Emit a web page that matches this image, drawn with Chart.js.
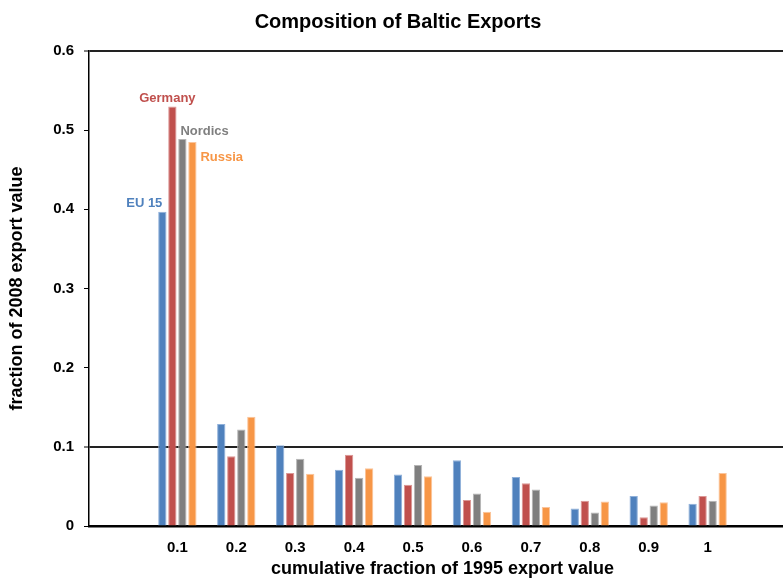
<!DOCTYPE html>
<html>
<head>
<meta charset="utf-8">
<title>Composition of Baltic Exports</title>
<script src="https://cdn.jsdelivr.net/npm/chart.js@4.4.1/dist/chart.umd.min.js"></script>
<style>
  html, body { margin: 0; padding: 0; background: #fff; overflow: hidden; }
  #wrap { width: 800px; height: 578px; position: relative; }
</style>
</head>
<body>
<div id="wrap"><canvas id="chart"></canvas></div>
<script>
// Cumulative fraction of 1995 export value (blank slots pad both ends of the axis)
const categories = ['', '0.1', '0.2', '0.3', '0.4', '0.5', '0.6', '0.7', '0.8', '0.9', '1', ''];

// Fraction of 2008 export value, by destination
const eu15     = [null, 0.397, 0.129, 0.102, 0.071, 0.065, 0.083, 0.062, 0.022, 0.038, 0.028, null];
const germany  = [null, 0.530, 0.088, 0.067, 0.090, 0.052, 0.033, 0.054, 0.032, 0.011, 0.038, null];
const nordics  = [null, 0.489, 0.122, 0.085, 0.061, 0.077, 0.041, 0.046, 0.017, 0.026, 0.032, null];
const russia   = [null, 0.485, 0.138, 0.066, 0.073, 0.063, 0.018, 0.024, 0.031, 0.030, 0.067, null];

const yTicks = [0, 0.1, 0.2, 0.3, 0.4, 0.5, 0.6];

const FONT = 'Arial, "Liberation Sans", sans-serif';

const series = [
  { label: 'EU 15',   data: eu15,    color: '#4F81BD', edge: '#8FB0DA' },
  { label: 'Germany', data: germany, color: '#C0504D', edge: '#DC9795' },
  { label: 'Nordics', data: nordics, color: '#7F7F7F', edge: '#B5B5B5' },
  { label: 'Russia',  data: russia,  color: '#F79646', edge: '#FBC49A' }
];

// Series names written next to the bars of the first group
const seriesLabels = {
  id: 'seriesLabels',
  afterDatasetsDraw(chart) {
    const ctx = chart.ctx;
    const idx = 1;
    const place = [
      { ds: 0, dx: 0,  dy: -8, align: 'right'  },
      { ds: 1, dx: -5, dy: -8, align: 'center' },
      { ds: 2, dx: -2, dy: -7, align: 'left'   },
      { ds: 3, dx: 8,  dy: 15, align: 'left'   }
    ];
    ctx.save();
    ctx.font = 'bold 13px ' + FONT;
    ctx.textBaseline = 'middle';
    place.forEach(p => {
      const bar = chart.getDatasetMeta(p.ds).data[idx];
      if (!bar) return;
      ctx.fillStyle = series[p.ds].color;
      ctx.textAlign = p.align;
      ctx.fillText(series[p.ds].label, bar.x + p.dx, bar.y + p.dy);
    });
    ctx.restore();
  }
};

const isLine = v => Math.abs(v - 0.1) < 1e-9 || Math.abs(v - 0.6) < 1e-9;

new Chart(document.getElementById('chart'), {
  type: 'bar',
  data: {
    labels: categories,
    datasets: series.map(s => ({
      label: s.label,
      data: s.data,
      backgroundColor: s.color,
      borderColor: s.edge,
      borderWidth: 1,
      categoryPercentage: 0.68,
      barPercentage: 0.83
    }))
  },
  options: {
    responsive: true,
    maintainAspectRatio: false,
    animation: false,
    devicePixelRatio: 1,
    layout: { padding: { left: 0, right: 4, top: 0, bottom: 0 } },
    plugins: {
      legend: { display: false },
      tooltip: { enabled: false },
      title: {
        display: true,
        text: 'Composition of Baltic Exports',
        color: '#000',
        font: { family: FONT, size: 20, weight: 'bold', lineHeight: 1.2 },
        padding: { top: 10, bottom: 17 }
      }
    },
    scales: {
      x: {
        grid: { display: false, drawTicks: false },
        border: { display: true, color: '#000', width: 2.5 },
        ticks: {
          color: '#000',
          font: { family: FONT, size: 15, weight: 'bold' },
          padding: 13,
          maxRotation: 0,
          autoSkip: false
        },
        title: {
          display: true,
          text: 'cumulative fraction of 1995 export value',
          color: '#000',
          font: { family: FONT, size: 18, weight: 'bold', lineHeight: 1.2 },
          padding: { top: 0, bottom: -2 }
        },
        afterFit(scale) { scale.height = 52; }
      },
      y: {
        min: 0,
        max: 0.6,
        afterBuildTicks(scale) { scale.ticks = yTicks.map(v => ({ value: v })); },
        grid: {
          color: c => (c.tick && isLine(c.tick.value)) ? '#222' : 'rgba(0,0,0,0)',
          lineWidth: c => (c.tick && isLine(c.tick.value)) ? 2 : 1,
          tickColor: '#000',
          tickLength: 5,
          tickWidth: 1
        },
        border: { display: true, color: '#000', width: 1.5 },
        ticks: {
          color: '#000',
          font: { family: FONT, size: 15, weight: 'bold' },
          padding: 10,
          callback: v => (v === 0 ? '0' : Number(v).toFixed(1))
        },
        title: {
          display: true,
          text: 'fraction of 2008 export value',
          color: '#000',
          font: { family: FONT, size: 18, weight: 'bold', lineHeight: 1.2 },
          padding: { top: 6, bottom: 0 }
        },
        afterFit(scale) { scale.width = 89; }
      }
    }
  },
  plugins: [seriesLabels]
});
</script>
</body>
</html>
